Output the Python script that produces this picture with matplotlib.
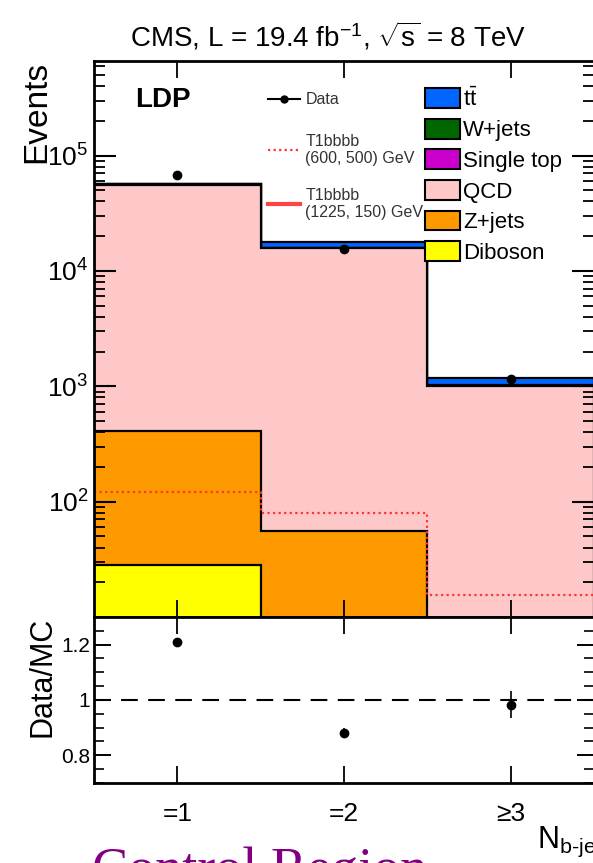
import numpy as np
import matplotlib
matplotlib.use("Agg")
import matplotlib.pyplot as plt
from matplotlib.patches import Patch
from matplotlib.lines import Line2D
from matplotlib.ticker import LogLocator, FixedLocator, MultipleLocator, NullFormatter

plt.rcParams['font.family'] = ['Liberation Sans', 'DejaVu Sans']
plt.rcParams['mathtext.fontset'] = 'custom'
plt.rcParams['mathtext.rm'] = 'Liberation Sans'
plt.rcParams['mathtext.it'] = 'Liberation Sans:italic'

# b-jet multiplicity bins
bin_labels = ['=1', '=2', '≥3']
edges = np.array([0.5, 1.5, 2.5, 3.5])
centers = 0.5 * (edges[:-1] + edges[1:])

# background components, stacked bottom -> top
diboson = np.array([28.0, 4.0, 0.5])
zjets = np.array([380.0, 52.0, 3.0])
qcd = np.array([55600.0, 15640.0, 996.0])
single_top = np.array([150.0, 60.0, 15.0])
wjets = np.array([200.0, 80.0, 20.0])
ttbar = np.array([300.0, 1900.0, 135.0])

# observed events and signal model
data = np.array([68500.0, 15600.0, 1150.0])
t1bbbb_600_500 = np.array([120.0, 80.0, 15.5])
ratio_err = np.array([0.008, 0.018, 0.05])

stack = [diboson, zjets, qcd, single_top, wjets, ttbar]
names = ['Diboson', 'Z+jets', 'QCD', 'Single top', 'W+jets', r'$\mathrm{t\bar{t}}$']
colors = ['#ffff00', '#ff9900', '#ffc8c8', '#cc00cc', '#006600', '#0066ff']

cum = np.cumsum(np.vstack(stack), axis=0)
total = cum[-1]

fig = plt.figure(figsize=(5.93, 8.63), dpi=100)
ax = fig.add_axes([0.1585, 0.2851, 0.843, 0.6442])
rax = fig.add_axes([0.1585, 0.0927, 0.843, 0.1924], sharex=ax)

# filled stack, drawn from the top layer down so lower ones cover it
for i in range(len(stack) - 1, -1, -1):
    ax.stairs(cum[i], edges, baseline=1e-3, fill=True, color=colors[i], lw=0)
    ax.stairs(cum[i], edges, baseline=1e-3, color='k', lw=1.6)

ax.stairs(t1bbbb_600_500, edges, baseline=None, color='#ff3333', ls=(0, (1, 1.5)), lw=1.6)
ax.errorbar(centers, data, yerr=np.sqrt(data), fmt='o', color='k', ms=6, lw=1.2)

ax.set_yscale('log')
ax.set_ylim(10, 6.6e5)
ax.set_xlim(0.5, 3.5)
ax.yaxis.set_major_locator(FixedLocator([1e2, 1e3, 1e4, 1e5]))
ax.yaxis.set_minor_locator(LogLocator(base=10, subs=np.arange(2, 10), numticks=20))
ax.yaxis.set_minor_formatter(NullFormatter())
ax.tick_params(axis='y', which='major', direction='in', length=16, width=1.5,
               labelsize=19, pad=4, left=True, right=True)
ax.tick_params(axis='y', which='minor', direction='in', length=8, width=1.3,
               left=True, right=True)
ax.tick_params(axis='x', which='major', direction='in', length=12, width=1.3,
               top=True, bottom=True, labelbottom=False)
for s in ax.spines.values():
    s.set_linewidth(2)

fig.text(0.553, 0.958, r'CMS, L = 19.4 fb$^{-1}$, $\sqrt{\mathrm{s}}$ = 8 TeV',
         fontsize=20, ha='center', va='center')
ax.set_ylabel('Events', fontsize=24, loc='top', labelpad=-4)
ax.text(0.082, 0.93, 'LDP', transform=ax.transAxes, fontsize=20, fontweight='bold',
        va='center')

# data and signal legend entries
leg_data = ax.legend([Line2D([], [], color='k', marker='o', ms=5, lw=1.5)], ['Data'],
                     loc='upper left', bbox_to_anchor=(0.335, 0.955), frameon=False,
                     fontsize=11.5, handlelength=2.0, handletextpad=0.35,
                     labelcolor='#333333', borderaxespad=0)
ax.add_artist(leg_data)
sig_handles = [
    Line2D([], [], color='#ff3333', ls=(0, (1, 1.5)), lw=1.6),
    Line2D([], [], color='#ff4444', lw=3),
]
sig_labels = ['T1bbbb\n(600, 500) GeV', 'T1bbbb\n(1225, 150) GeV']
leg_sig = ax.legend(sig_handles, sig_labels, loc='upper left', bbox_to_anchor=(0.335, 0.881),
                    frameon=False, fontsize=11.5, labelspacing=1.35, handlelength=2.0,
                    handletextpad=0.35, labelcolor='#333333', borderaxespad=0)
ax.add_artist(leg_sig)

bkg_handles = [Patch(facecolor=c, edgecolor='k', lw=1.5) for c in colors[::-1]]
ax.legend(bkg_handles, names[::-1], loc='upper left', bbox_to_anchor=(0.645, 0.968),
          frameon=False, fontsize=16, labelspacing=0.36, handlelength=1.55,
          handleheight=1.0, handletextpad=0.15, borderaxespad=0)

# ratio panel
ratio = data / total
rax.axhline(1.0, color='k', ls=(0, (8, 5)), lw=1.5)
rax.errorbar(centers, ratio, yerr=ratio_err, fmt='o', color='k', ms=6, lw=1.2)
rax.set_ylim(0.7, 1.3)
rax.yaxis.set_minor_locator(MultipleLocator(0.05))
rax.set_yticks([0.8, 1.0, 1.2])
rax.set_yticklabels(['0.8', '1', '1.2'])
rax.set_xticks(centers)
rax.set_xticklabels(bin_labels)
rax.tick_params(axis='y', which='major', direction='in', length=12, width=1.4,
                labelsize=15, pad=3, left=True, right=True)
rax.tick_params(axis='y', which='minor', direction='in', length=7, width=1.2,
                left=True, right=True)
rax.tick_params(axis='x', which='major', direction='in', length=12, width=1.3,
                top=True, bottom=True, labelsize=19, pad=14)
for s in rax.spines.values():
    s.set_linewidth(2)
rax.set_ylabel('Data/MC', fontsize=22, loc='top', labelpad=2)
rax.text(0.886, -0.25, r'N$_{\mathrm{b\text{-}jet}}$', transform=rax.transAxes,
         fontsize=22, ha='left', va='top')

fig.text(0.155, -0.026, 'Control Region', color='#800080', fontsize=39,
         family='Liberation Serif', va='baseline')

fig.savefig('out.png', dpi=100)
